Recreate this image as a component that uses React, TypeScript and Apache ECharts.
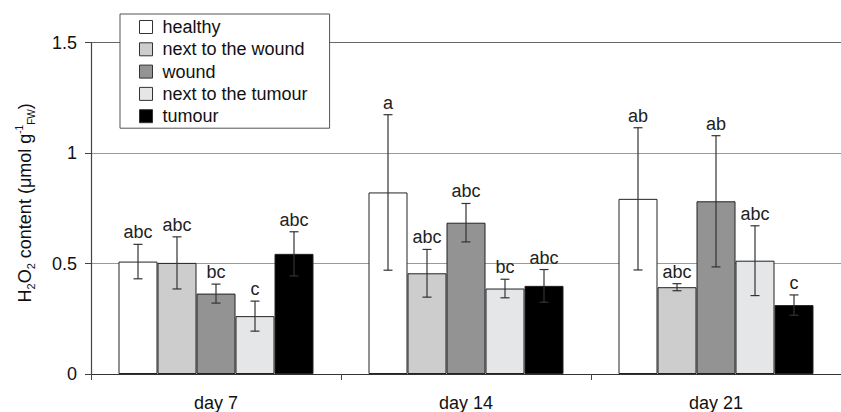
import React, { useEffect, useRef } from "react";
import * as echarts from "echarts";

const categories = ["day 7", "day 14", "day 21"];
const seriesNames = ["healthy", "next to the wound", "wound", "next to the tumour", "tumour"];
const seriesColors = ["#ffffff", "#cdcdcd", "#939393", "#e5e6e8", "#000000"];

const healthy = [0.509, 0.822, 0.793];
const healthyErr = [0.078, 0.352, 0.322];
const healthyLbl = ["abc", "a", "ab"];

const nextWound = [0.503, 0.456, 0.393];
const nextWoundErr = [0.118, 0.108, 0.016];
const nextWoundLbl = ["abc", "abc", "abc"];

const wound = [0.364, 0.685, 0.782];
const woundErr = [0.043, 0.087, 0.297];
const woundLbl = ["bc", "abc", "ab"];

const nextTumour = [0.262, 0.387, 0.513];
const nextTumourErr = [0.068, 0.042, 0.158];
const nextTumourLbl = ["c", "bc", "abc"];

const tumour = [0.544, 0.399, 0.312];
const tumourErr = [0.1, 0.074, 0.046];
const tumourLbl = ["abc", "abc", "c"];

const yTicks = [0, 0.5, 1, 1.5];

const values = [healthy, nextWound, wound, nextTumour, tumour];
const errors = [healthyErr, nextWoundErr, woundErr, nextTumourErr, tumourErr];
const letters = [healthyLbl, nextWoundLbl, woundLbl, nextTumourLbl, tumourLbl];

const FONT = "'Liberation Sans', Arial, sans-serif";
const BAR_W = 39;

export default function App() {
  const ref = useRef<HTMLDivElement>(null);
  useEffect(() => {
    if (!ref.current) return;
    const chart = echarts.init(ref.current, null, { renderer: "svg" });

    const barSeries = seriesNames.map((name, s) => ({
      name,
      type: "bar",
      data: values[s],
      barWidth: BAR_W,
      barGap: "0%",
      itemStyle: { color: seriesColors[s], borderColor: "#222", borderWidth: 1 },
      z: 2,
    }));

    const errSeries = seriesNames.map((name, s) => ({
      name: name + " err",
      type: "custom",
      data: values[s].map((v, i) => [i, v, errors[s][i]]),
      encode: { x: 0, y: 1 },
      z: 3,
      renderItem: (params: any, api: any) => {
        const cat = api.value(0);
        const v = api.value(1);
        const e = api.value(2);
        const c = api.coord([cat, v]);
        const x = c[0] + (s - 2) * BAR_W;
        const yTop = api.coord([cat, v + e])[1];
        const yBot = api.coord([cat, v - e])[1];
        const cap = 4.5;
        const st = { stroke: "#333", lineWidth: 1.2 };
        return {
          type: "group",
          children: [
            { type: "line", shape: { x1: x, y1: yTop, x2: x, y2: yBot }, style: st },
            { type: "line", shape: { x1: x - cap, y1: yTop, x2: x + cap, y2: yTop }, style: st },
            { type: "line", shape: { x1: x - cap, y1: yBot, x2: x + cap, y2: yBot }, style: st },
            {
              type: "text",
              x,
              y: yTop - 3,
              style: {
                text: letters[s][params.dataIndex],
                fill: "#222",
                font: `18px ${FONT}`,
                align: "center",
                verticalAlign: "bottom",
              },
            },
          ],
        };
      },
    }));

    chart.setOption({
      animation: false,
      textStyle: { fontFamily: FONT },
      grid: { left: 91, top: 42.7, width: 757.5, height: 331.6, containLabel: false },
      legend: {
        data: seriesNames,
        orient: "vertical",
        left: 120,
        top: 14,
        icon: "rect",
        itemWidth: 13,
        itemHeight: 13,
        itemGap: 4.3,
        padding: [4, 22, 3, 19],
        backgroundColor: "#fff",
        borderColor: "#555",
        borderWidth: 1,
        borderRadius: 0,
        z: 10,
        selectedMode: false,
        itemStyle: { borderColor: "#333", borderWidth: 1 },
        textStyle: { fontSize: 18, color: "#111", fontFamily: FONT, lineHeight: 18, padding: [0, 0, 0, 5] },
      },
      xAxis: {
        type: "category",
        data: categories,
        axisLine: { lineStyle: { color: "#333", width: 1.2 } },
        axisTick: { show: true, length: 6, lineStyle: { color: "#444" } },
        axisLabel: { fontSize: 18, color: "#111", margin: 20, fontFamily: FONT },
        splitLine: { show: false },
      },
      yAxis: {
        type: "value",
        min: 0,
        max: 1.5,
        interval: 0.5,
        axisLine: { show: true, lineStyle: { color: "#444", width: 1.2 } },
        axisTick: { show: true, length: 6, lineStyle: { color: "#444" } },
        axisLabel: {
          fontSize: 18,
          color: "#111",
          margin: 14,
          fontFamily: FONT,
          formatter: (v: number) => {
            const t = yTicks.find((k) => Math.abs(k - v) < 1e-9);
            return t === undefined ? "" : String(t);
          },
        },
        splitLine: {
          show: true,
          lineStyle: { color: ["#9a9a9a", "#9a9a9a", "#9a9a9a", "#666"], width: 1 },
        },
        name: "H{s|2}O{s|2} content (μmol g{p|-1}{f|FW})",
        nameLocation: "middle",
        nameRotate: 90,
        nameGap: 55,
        nameTextStyle: {
          fontSize: 18,
          color: "#111",
          fontFamily: FONT,
          lineHeight: 22,
          padding: [0, 0, 0, 11],
          rich: {
            s: { fontSize: 11, lineHeight: 16, verticalAlign: "bottom", fontFamily: FONT, color: "#111" },
            f: { fontSize: 10, lineHeight: 10, verticalAlign: "bottom", fontFamily: FONT, color: "#111" },
            p: { fontSize: 10, lineHeight: 10, verticalAlign: "top", fontFamily: FONT, color: "#111" },
          },
        },
      },
      series: [...barSeries, ...errSeries],
    } as any);

    return () => chart.dispose();
  }, []);

  return (
    <div
      ref={ref}
      style={{ position: "fixed", left: 0, top: 0, width: 841, height: 412, background: "#fff" }}
    />
  );
}
